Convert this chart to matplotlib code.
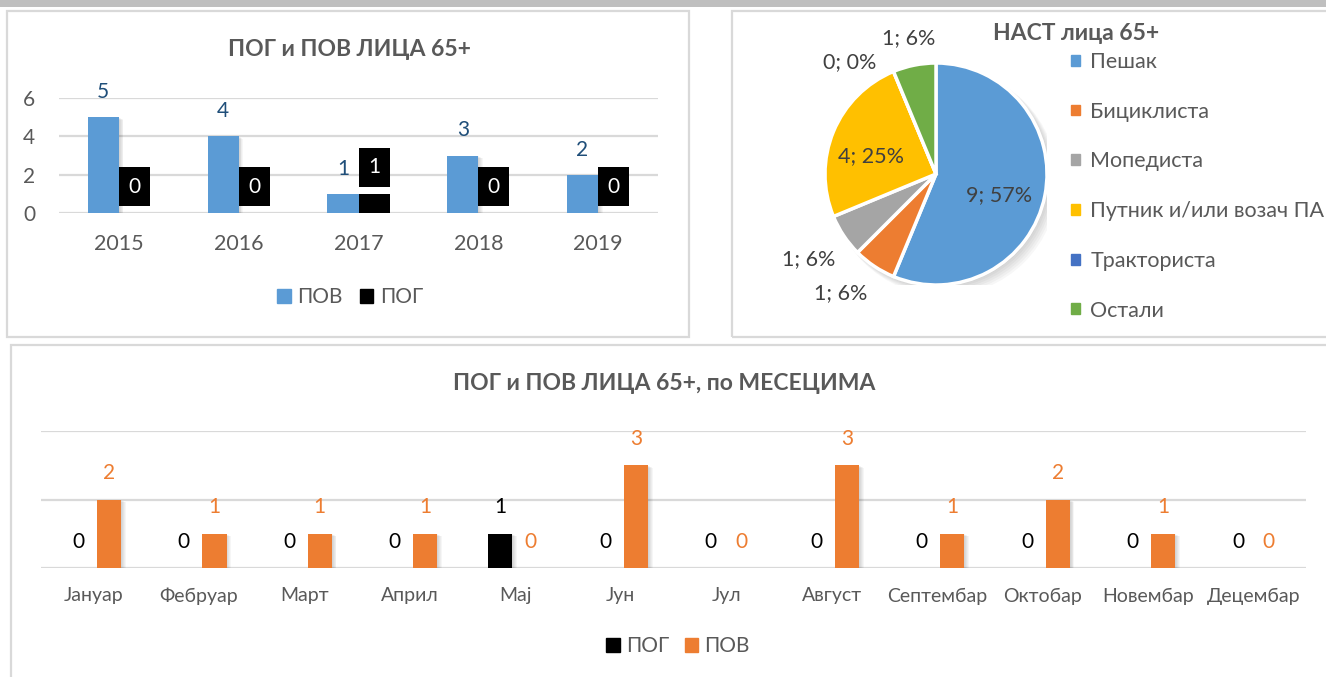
import numpy as np
import matplotlib
matplotlib.use('Agg')
import matplotlib.pyplot as plt
from matplotlib.patches import Rectangle, Patch, Circle
from matplotlib.transforms import offset_copy

plt.rcParams['font.family'] = ['Lato', 'DejaVu Sans']

# ---------------- подаци ----------------
years = ['2015', '2016', '2017', '2018', '2019']
pov_years = [5, 4, 1, 3, 2]
pog_years = [0, 0, 1, 0, 0]

user_types = ['Пешак', 'Бициклиста', 'Мопедиста', 'Путник и/или возач ПА',
              'Тракториста', 'Остали']
user_counts = [9, 1, 1, 4, 0, 1]
user_pct = [57, 6, 6, 25, 0, 6]

months = ['Јануар', 'Фебруар', 'Март', 'Април', 'Мај', 'Јун', 'Јул', 'Август',
          'Септембар', 'Октобар', 'Новембар', 'Децембар']
pog_months = [0, 0, 0, 0, 1, 0, 0, 0, 0, 0, 0, 0]
pov_months = [2, 1, 1, 1, 0, 3, 0, 3, 1, 2, 1, 0]

BLUE = '#5B9BD5'
ORANGE = '#ED7D31'
GRAY_TXT = '#595959'
GRID = '#D9D9D9'
pie_colors = ['#5B9BD5', '#ED7D31', '#A5A5A5', '#FFC000', '#4472C4', '#70AD47']

W, H = 1326, 677
fig = plt.figure(figsize=(W / 100, H / 100), dpi=100)


def px_rect(x0, y0, x1, y1):
    return [x0 / W, 1 - y1 / H, (x1 - x0) / W, (y1 - y0) / H]


def fx(x):
    return x / W


def fy(y):
    return 1 - y / H


# позадина: сива трака и оквири панела
fig.patches.append(Rectangle((0, fy(7)), 1, 7 / H, transform=fig.transFigure,
                             color='#BFBFBF', lw=0))
for x0, y0, x1, y1 in [(7, 11, 689, 337), (732, 11, 1345, 337), (11, 345, 1345, 700)]:
    fig.patches.append(Rectangle((fx(x0), fy(y1)), (x1 - x0) / W, (y1 - y0) / H,
                                 transform=fig.transFigure, fill=False,
                                 ec=GRID, lw=1.6))


def bar_shadow(ax, xs, hs, w):
    for k in range(1, 6):
        tr = offset_copy(ax.transData, fig=fig, x=k * 0.9, y=-k * 0.5, units='dots')
        ax.bar(xs, hs, w, color='black', alpha=0.035, lw=0, transform=tr, zorder=2)


def style_bar_axes(ax):
    for s in ax.spines.values():
        s.set_visible(False)
    ax.yaxis.grid(True, color=GRID, lw=1.6)
    ax.set_axisbelow(True)
    ax.tick_params(length=0, colors=GRAY_TXT)


# ---------------- графикон 1: по годинама ----------------
ax1 = fig.add_axes(px_rect(59, 98, 658, 213))
x = np.arange(len(years))
w = 0.26
bar_shadow(ax1, x - w / 2, pov_years, w)
ax1.bar(x - w / 2, pov_years, w, color=BLUE, zorder=3)
ax1.bar(x + w / 2, pog_years, w, color='black', zorder=3)
ax1.set_xlim(-0.5, len(years) - 0.5)
ax1.set_ylim(0, 6)
ax1.set_yticks([0, 2, 4, 6])
ax1.set_xticks(x)
ax1.set_xticklabels(years)
style_bar_axes(ax1)
ax1.tick_params(axis='y', pad=17, labelsize=15)
ax1.tick_params(axis='x', pad=15, labelsize=15.5)
for xi, v in zip(x, pov_years):
    ax1.annotate(str(v), (xi - w / 2, v), xytext=(0, 18), textcoords='offset points',
                 ha='center', va='center', color='#1F4E79', fontsize=15)
for xi, v in zip(x, pog_years):
    ax1.annotate(str(v), (xi + w / 2, v), xytext=(0, 19), textcoords='offset points',
                 ha='center', va='center', color='white', fontsize=15,
                 bbox=dict(boxstyle='square,pad=0.45', fc='black', ec='none'))

fig.text(fx(349), fy(50), 'ПОГ и ПОВ ЛИЦА 65+', ha='center', va='center',
         fontsize=16.5, fontweight='bold', color=GRAY_TXT)
fig.legend([Patch(color=BLUE), Patch(color='black')], ['ПОВ', 'ПОГ'],
           loc='center', bbox_to_anchor=(fx(350), fy(297)), ncol=2, frameon=False,
           fontsize=15, handlelength=0.65, handleheight=0.65, handletextpad=0.3,
           columnspacing=0.85, labelcolor=GRAY_TXT)

# ---------------- графикон 2: пита ----------------
ax2 = fig.add_axes(px_rect(825, 63, 1047, 285))
for k in range(1, 7):
    ax2.add_patch(Circle((0.012 * k, -0.012 * k), 1.0 + 0.004 * k, color='black',
                         alpha=0.03, lw=0, zorder=0))
wedges, _ = ax2.pie(user_counts, colors=pie_colors, startangle=90, counterclock=False,
                    radius=1, wedgeprops=dict(edgecolor='white', linewidth=2.5))
for wd in wedges:
    wd.set_zorder(2)
ax2.set_xlim(-1, 1)
ax2.set_ylim(-1, 1)
ax2.set_aspect('equal')
ax2.axis('off')
label_r = [0.60, 1.37, 1.38, 0.61, 1.27, 1.25]
label_nudge = [-7, -5, 0, 7, 15, 0]
for wd, n, p, r, dn in zip(wedges, user_counts, user_pct, label_r, label_nudge):
    ang = np.deg2rad((wd.theta1 + wd.theta2) / 2 + dn)
    ax2.text(r * np.cos(ang), r * np.sin(ang), f'{n}; {p}%', ha='center', va='center',
             fontsize=15.5, color='#404040')

fig.text(fx(1076), fy(33), 'НАСТ лица 65+', ha='center', va='center',
         fontsize=16.5, fontweight='bold', color=GRAY_TXT)
fig.legend([Patch(color=c) for c in pie_colors], user_types, loc='upper left',
           bbox_to_anchor=(fx(1071), fy(52)), frameon=False, fontsize=15.5,
           handlelength=0.4, handleheight=0.4, handletextpad=0.5,
           labelspacing=1.38, borderpad=0, borderaxespad=0, labelcolor=GRAY_TXT)

# ---------------- графикон 3: по месецима ----------------
ax3 = fig.add_axes(px_rect(41, 431, 1306, 568))
xm = np.arange(len(months))
wm = 0.23
off = 0.145
bar_shadow(ax3, xm + off, pov_months, wm)
bar_shadow(ax3, xm - off, pog_months, wm)
ax3.bar(xm - off, pog_months, wm, color='black', zorder=3)
ax3.bar(xm + off, pov_months, wm, color=ORANGE, zorder=3)
ax3.set_xlim(-0.5, len(months) - 0.5)
ax3.set_ylim(0, 4)
ax3.set_yticks([0, 2, 4])
ax3.set_yticklabels([])
ax3.set_xticks(xm)
ax3.set_xticklabels(months)
style_bar_axes(ax3)
ax3.tick_params(axis='x', pad=14, labelsize=14)
for xi, v in zip(xm, pog_months):
    ax3.annotate(str(v), (xi - off, v), xytext=(0, 19), textcoords='offset points',
                 ha='center', va='center', color='black', fontsize=15)
for xi, v in zip(xm, pov_months):
    ax3.annotate(str(v), (xi + off, v), xytext=(0, 19), textcoords='offset points',
                 ha='center', va='center', color=ORANGE, fontsize=15)

fig.text(fx(664), fy(384), 'ПОГ и ПОВ ЛИЦА 65+, по МЕСЕЦИМА', ha='center',
         va='center', fontsize=16.5, fontweight='bold', color=GRAY_TXT)
fig.legend([Patch(color='black'), Patch(color=ORANGE)], ['ПОГ', 'ПОВ'],
           loc='center', bbox_to_anchor=(fx(678), fy(646)), ncol=2, frameon=False,
           fontsize=15, handlelength=0.65, handleheight=0.65, handletextpad=0.3,
           columnspacing=0.75, labelcolor=GRAY_TXT)

fig.savefig('out.png', dpi=100, facecolor='white')
